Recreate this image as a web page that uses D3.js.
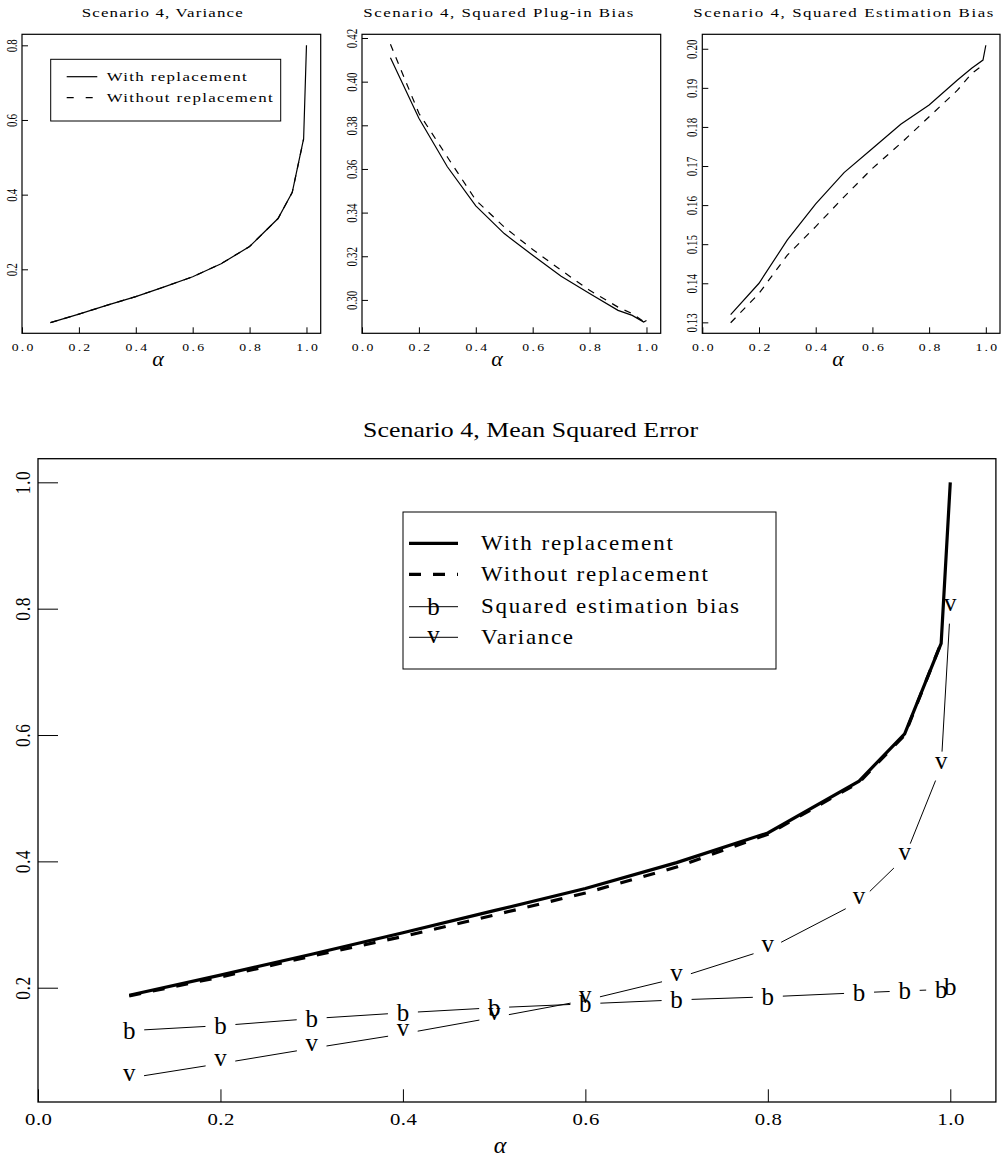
<!DOCTYPE html>
<html>
<head>
<meta charset="utf-8">
<script src="https://cdn.jsdelivr.net/npm/d3@7"></script>
<style>
  body { margin: 0; background: #fff; }
  svg { display: block; font-family: "Liberation Serif", serif; }
</style>
</head>
<body>
<script>
// sampling fractions
const alpha = [0.1, 0.2, 0.3, 0.4, 0.5, 0.6, 0.7, 0.8, 0.9, 0.95, 0.99, 1.0]
const alphaWo = [0.1, 0.2, 0.3, 0.4, 0.5, 0.6, 0.7, 0.8, 0.9, 0.95, 0.99]

// variance
const varWith = [0.057, 0.080, 0.104, 0.127, 0.153, 0.180, 0.215, 0.261, 0.336, 0.406, 0.550, 0.800]
const varWithout = [0.057, 0.080, 0.104, 0.127, 0.153, 0.180, 0.215, 0.261, 0.336, 0.406, 0.549]
// squared plug-in bias
const plugWith = [0.4110, 0.3832, 0.3610, 0.3431, 0.3304, 0.3205, 0.3108, 0.3029, 0.2952, 0.2929, 0.2899, 0.2906]
const plugWithout = [0.4171, 0.3855, 0.3655, 0.3457, 0.3334, 0.3231, 0.3136, 0.3044, 0.2967, 0.2937, 0.2901]
// squared estimation bias
const estWith = [0.1320, 0.1400, 0.1511, 0.1603, 0.1683, 0.1745, 0.1807, 0.1856, 0.1920, 0.1950, 0.1971, 0.2009]
const estWithout = [0.1299, 0.1374, 0.1472, 0.1545, 0.1621, 0.1694, 0.1758, 0.1826, 0.1894, 0.1937, 0.1958]
// mean squared error
const mseWith = [0.188, 0.220, 0.253, 0.287, 0.322, 0.357, 0.398, 0.445, 0.527, 0.602, 0.745, 1.000]
const mseWithout = [0.187, 0.217, 0.250, 0.281, 0.315, 0.350, 0.391, 0.443, 0.525, 0.600, 0.746]

// tick labels
const alphaTicks = [0, 0.2, 0.4, 0.6, 0.8, 1.0]
const varTicks = [0.2, 0.4, 0.6, 0.8]
const plugTicks = [0.30, 0.32, 0.34, 0.36, 0.38, 0.40, 0.42]
const estTicks = [0.13, 0.14, 0.15, 0.16, 0.17, 0.18, 0.19, 0.20]
const mseTicks = [0.2, 0.4, 0.6, 0.8, 1.0]

const smallLegend = ["With replacement", "Without replacement"]
const bigLegend = ["With replacement", "Without replacement", "Squared estimation bias", "Variance"]

const width = 1002, height = 1161

const svg = d3.select("body").append("svg")
	.attr("width", width)
	.attr("height", height)
	.attr("viewBox", [0, 0, width, height])

// text that is stretched sideways like the original bitmap
function label(g, str, {x, y, size, w, sx = 1, rot = 0, anchor = "middle", italic = false}) {
	const t = g.append("text")
		.attr("transform", `translate(${x},${y}) scale(${sx},1)` + (rot ? ` rotate(${rot})` : ""))
		.attr("text-anchor", anchor)
		.attr("font-size", size)
		.attr("font-style", italic ? "italic" : null)
		.text(str)
	if (w) t.attr("textLength", rot ? w : w / sx).attr("lengthAdjust", "spacing")
	return t
}

function styleAxis(g) {
	g.attr("font-family", null).attr("font-size", null)
	g.select(".domain").remove()
	g.selectAll(".tick line").attr("stroke", "#000")
	g.selectAll(".tick text").attr("fill", "#000")
}

function gapped(x, y, xs, ys, gap) {
	const p = d3.path()
	for (let i = 0; i < xs.length - 1; i++) {
		const x0 = x(xs[i]), y0 = y(ys[i]), x1 = x(xs[i + 1]), y1 = y(ys[i + 1])
		const len = Math.hypot(x1 - x0, y1 - y0)
		if (len <= 2 * gap) continue
		const ux = (x1 - x0) / len, uy = (y1 - y0) / len
		p.moveTo(x0 + ux * gap, y0 + uy * gap)
		p.lineTo(x1 - ux * gap, y1 - uy * gap)
	}
	return p.toString()
}

// ---- three small panels ----
const top0 = 34.3, top1 = 333.3
const panels = [
	{left: 22, right: 320.7, yDomain: [0.0286, 0.8295], ticks: varTicks, fmt: ".1f", labW: 13,
		title: "Scenario 4, Variance", titleX: 162.2, titleW: 161, alphaX: 158,
		a: [alpha, varWith], b: [alphaWo, varWithout], legend: true},
	{left: 362, right: 660.7, yDomain: [0.2847, 0.4217], ticks: plugTicks, fmt: ".2f", labW: 19.3,
		title: "Scenario 4, Squared Plug-in Bias", titleX: 498.3, titleW: 270, alphaX: 497,
		a: [alpha, plugWith], b: [alphaWo, plugWithout]},
	{left: 702.3, right: 1000, yDomain: [0.1272, 0.2037], ticks: estTicks, fmt: ".2f", labW: 19.3,
		title: "Scenario 4, Squared Estimation Bias", titleX: 843.3, titleW: 300, alphaX: 838,
		a: [alpha, estWith], b: [alphaWo, estWithout]}
]

panels.forEach(p => {
	const g = svg.append("g")
	const x = d3.scaleLinear([0, 1.05], [p.left, p.right])
	const y = d3.scaleLinear(p.yDomain, [top1, top0])
	const line = d3.line().x(d => x(d[0])).y(d => y(d[1]))

	g.append("g")
		.attr("transform", `translate(0,${top1})`)
		.call(d3.axisBottom(x).tickValues(alphaTicks).tickSize(-6).tickFormat(d3.format(".1f")))
		.call(styleAxis)
		.call(a => a.selectAll(".tick text")
			.attr("y", null).attr("dy", null)
			.attr("transform", "translate(0,17.5) scale(1.25,1)")
			.attr("font-size", 11)
			.attr("textLength", 21.7 / 1.25).attr("lengthAdjust", "spacing"))

	g.append("g")
		.attr("transform", `translate(${p.left},0)`)
		.call(d3.axisLeft(y).tickValues(p.ticks).tickSize(-6).tickFormat(d3.format(p.fmt)))
		.call(styleAxis)
		.call(a => a.selectAll(".tick text")
			.attr("x", null).attr("dy", null)
			.attr("text-anchor", "middle")
			.attr("transform", "translate(-5.3,0) scale(1.25,1) rotate(-90)")
			.attr("font-size", 11)
			.attr("textLength", p.labW).attr("lengthAdjust", "spacing"))

	g.append("path")
		.attr("d", line(d3.zip(...p.a)))
		.attr("fill", "none").attr("stroke", "#000").attr("stroke-width", 1.2)
	g.append("path")
		.attr("d", line(d3.zip(...p.b)))
		.attr("fill", "none").attr("stroke", "#000").attr("stroke-width", 1.2)
		.attr("stroke-dasharray", "7 7")

	g.append("rect")
		.attr("x", p.left).attr("y", top0)
		.attr("width", p.right - p.left).attr("height", top1 - top0)
		.attr("fill", "none").attr("stroke", "#000").attr("stroke-width", 1.2)

	label(g, p.title, {x: p.titleX, y: 16.5, size: 13.5, sx: 1.25, w: p.titleW})
	label(g, "α", {x: p.alphaX, y: 366, size: 22, italic: true})

	if (p.legend) {
		const lg = g.append("g")
		lg.append("rect")
			.attr("x", 50.7).attr("y", 59.3).attr("width", 230).attr("height", 61.7)
			.attr("fill", "#fff").attr("stroke", "#000").attr("stroke-width", 1)
		const rows = [76.7, 97.7]
		smallLegend.forEach((txt, i) => {
			lg.append("line")
				.attr("x1", 66.7).attr("x2", 97.3).attr("y1", rows[i]).attr("y2", rows[i])
				.attr("stroke", "#000").attr("stroke-width", 1.2)
				.attr("stroke-dasharray", i ? "7 12" : null)
			label(lg, txt, {x: 106.7, y: rows[i] + 4.5, size: 13.5, sx: 1.25, anchor: "start", w: [140, 166][i]})
		})
	}
})

// ---- mean squared error panel ----
const bx0 = 38, bx1 = 995.9, by0 = 458.7, by1 = 1102
const x = d3.scaleLinear([0, 1.05], [bx0, bx1])
const y = d3.scaleLinear([0.0191, 1.0374], [by1, by0])
const line = d3.line().x(d => x(d[0])).y(d => y(d[1]))
const g = svg.append("g")

g.append("g")
	.attr("transform", `translate(0,${by1})`)
	.call(d3.axisBottom(x).tickValues(alphaTicks).tickSize(-12.7).tickFormat(d3.format(".1f")))
	.call(styleAxis)
	.call(a => a.selectAll(".tick text")
		.attr("y", null).attr("dy", null)
		.attr("transform", "translate(0,23) scale(1.2,1)")
		.attr("font-size", 17.3)
		.attr("textLength", 27 / 1.2).attr("lengthAdjust", "spacing"))

g.append("g")
	.attr("transform", `translate(${bx0},0)`)
	.call(d3.axisLeft(y).tickValues(mseTicks).tickSize(-20).tickFormat(d3.format(".1f")))
	.call(styleAxis)
	.call(a => a.selectAll(".tick text")
		.attr("x", null).attr("dy", null)
		.attr("text-anchor", "middle")
		.attr("transform", "translate(-7.7,0) scale(1.2,1) rotate(-90)")
		.attr("font-size", 17.3)
		.attr("textLength", 23).attr("lengthAdjust", "spacing"))

g.append("path")
	.attr("d", line(d3.zip(alpha, mseWith)))
	.attr("fill", "none").attr("stroke", "#000").attr("stroke-width", 3.2)
g.append("path")
	.attr("d", line(d3.zip(alphaWo, mseWithout)))
	.attr("fill", "none").attr("stroke", "#000").attr("stroke-width", 3.2)
	.attr("stroke-dasharray", "12 12")

// bias (b) and variance (v), lines broken round each symbol
const markers = [
	{ys: estWith, ch: "b", dy: 8.2, legendDy: 8.2},
	{ys: varWith, ch: "v", dy: 2.5, legendDy: 5.4}
]
markers.forEach(m => {
	g.append("path")
		.attr("d", gapped(x, y, alpha, m.ys, 15))
		.attr("fill", "none").attr("stroke", "#000").attr("stroke-width", 1)
	g.append("g")
		.selectAll("text")
		.data(d3.zip(alpha, m.ys))
		.join("text")
		.attr("x", d => x(d[0]))
		.attr("y", d => y(d[1]) + m.dy)
		.attr("text-anchor", "middle")
		.attr("font-size", 25)
		.text(m.ch)
})

g.append("rect")
	.attr("x", bx0).attr("y", by0)
	.attr("width", bx1 - bx0).attr("height", by1 - by0)
	.attr("fill", "none").attr("stroke", "#000").attr("stroke-width", 1.3)

label(g, "Scenario 4, Mean Squared Error", {x: 363, y: 437, size: 21.5, sx: 1.2, anchor: "start", w: 335})
label(g, "α", {x: 500, y: 1153, size: 24, italic: true})

// legend
const lg = g.append("g")
lg.append("rect")
	.attr("x", 403).attr("y", 512).attr("width", 373).attr("height", 157)
	.attr("fill", "#fff").attr("stroke", "#000").attr("stroke-width", 1)
const rows = [543.3, 574.3, 606.7, 637.3]
const rowW = [192, 227, 258, 92]
bigLegend.forEach((txt, i) => {
	lg.append("line")
		.attr("x1", 409).attr("x2", 458).attr("y1", rows[i]).attr("y2", rows[i])
		.attr("stroke", "#000").attr("stroke-width", i < 2 ? 3.2 : 1)
		.attr("stroke-dasharray", i === 1 ? "12 12" : null)
	if (i >= 2) {
		const m = markers[i - 2]
		lg.append("text")
			.attr("x", 433.5).attr("y", rows[i] + m.legendDy)
			.attr("text-anchor", "middle").attr("font-size", 25)
			.text(m.ch)
	}
	label(lg, txt, {x: 481, y: rows[i] + 6.5, size: 20, sx: 1.15, anchor: "start", w: rowW[i]})
})
</script>
</body>
</html>
